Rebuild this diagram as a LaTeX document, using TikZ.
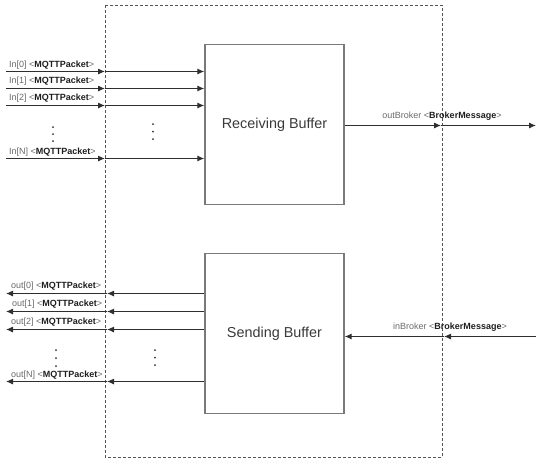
\documentclass[tikz,border=0pt]{standalone}
\usepackage{fontspec}
\setmainfont{Liberation Sans}
\usetikzlibrary{arrows.meta}
\definecolor{linegray}{HTML}{2E2E2E}
\definecolor{boxgray}{HTML}{7A7A7A}
\definecolor{framegray}{HTML}{555555}
\definecolor{lblgray}{HTML}{6A6A6A}
\definecolor{typegray}{HTML}{1E1E1E}
\definecolor{txtgray}{HTML}{3A3A3A}
\newcommand{\porttype}[1]{\textless\textcolor{typegray}{\textbf{#1}}\textgreater}
\tikzset{
  flow/.style={draw=linegray, line width=1pt, -{Latex[length=7pt,width=6pt]}},
  buffer/.style={draw=boxgray, line width=1.4pt, minimum width=139pt, minimum height=160pt,
    inner sep=0pt, font=\fontsize{14.4}{17}\selectfont, text=txtgray},
  port/.style={font=\fontsize{9}{11}\selectfont, text=lblgray, inner sep=0pt},
  frame/.style={draw=framegray, line width=0.9pt, dash pattern=on 3pt off 2pt},
  dot/.style={fill=linegray}
}
\begin{document}
\begin{tikzpicture}[x=1pt,y=-1pt]
		\useasboundingbox (0,0) rectangle (536,461);
		\coordinate (TL) at (105,5);
		\coordinate (BR) at (442,457);
		\draw [frame] (TL) rectangle (BR);
		\node [buffer] (RB) at (274.5,124.5) {Receiving Buffer};
		\node [buffer] (SB) at (274.5,333.5) {Sending Buffer};
		% inputs
		\coordinate (I0) at (6,71.5)  node (lI0) at (9,67)  [port,anchor=base west] {In[0] \porttype{MQTTPacket}};
		\coordinate (I1) at (6,88.5)  node (lI1) at (9,83.5)  [port,anchor=base west] {In[1] \porttype{MQTTPacket}};
		\coordinate (I2) at (6,105.5) node (lI2) at (9,100) [port,anchor=base west] {In[2] \porttype{MQTTPacket}};
		\coordinate (IN) at (6,158.5) node (lIN) at (9,154) [port,anchor=base west] {In[N] \porttype{MQTTPacket}};
		\coordinate (I0m) at (105,71.5);
		\coordinate (I1m) at (105,88.5);
		\coordinate (I2m) at (105,105.5);
		\coordinate (INm) at (105,158.5);
		\draw [flow] (I0)--(I0m); \draw [flow] (I0m)--(RB.west|-I0);
		\draw [flow] (I1)--(I1m); \draw [flow] (I1m)--(RB.west|-I1);
		\draw [flow] (I2)--(I2m); \draw [flow] (I2m)--(RB.west|-I2);
		\draw [flow] (IN)--(INm); \draw [flow] (INm)--(RB.west|-IN);
		% outputs
		\coordinate (O0) at (6,293.5) node (lO0) at (11,288) [port,anchor=base west] {out[0] \porttype{MQTTPacket}};
		\coordinate (O1) at (6,311.5) node (lO1) at (12,306.5) [port,anchor=base west] {out[1] \porttype{MQTTPacket}};
		\coordinate (O2) at (6,329.5) node (lO2) at (11,324.5) [port,anchor=base west] {out[2] \porttype{MQTTPacket}};
		\coordinate (ON) at (6,381.5) node (lON) at (11,377) [port,anchor=base west] {out[N] \porttype{MQTTPacket}};
		\coordinate (O0m) at (107,293.5);
		\coordinate (O1m) at (107,311.5);
		\coordinate (O2m) at (107,329.5);
		\coordinate (ONm) at (107,381.5);
		\draw [flow] (SB.west|-O0)--(O0m); \draw [flow] (O0m)--(O0);
		\draw [flow] (SB.west|-O1)--(O1m); \draw [flow] (O1m)--(O1);
		\draw [flow] (SB.west|-O2)--(O2m); \draw [flow] (O2m)--(O2);
		\draw [flow] (SB.west|-ON)--(ONm); \draw [flow] (ONm)--(ON);
		% broker side
		\coordinate (OB) at (536,125.5) node (lOB) at (442,118) [port,anchor=base] {outBroker \porttype{BrokerMessage}};
		\coordinate (IB) at (536,336.5) node (lIB) at (450,329) [port,anchor=base] {inBroker \porttype{BrokerMessage}};
		\coordinate (OBm) at (441,125.5);
		\coordinate (IBm) at (444,336.5);
		\draw [flow] (RB.east|-OB)--(OBm); \draw [flow] (OBm)--(OB);
		\draw [flow] (IB)--(IBm); \draw [flow] (IBm)--(SB.east|-IB);
		% ellipses
		\fill [dot] (53,127) circle (1pt) (53,134) circle (1pt) (53,141) circle (1pt);
		\fill [dot] (153,124) circle (1pt) (153,131.5) circle (1pt) (153,139) circle (1pt);
		\fill [dot] (56,350) circle (1pt) (56,358) circle (1pt) (56,366) circle (1pt);
		\fill [dot] (155,350) circle (1pt) (155,357.5) circle (1pt) (155,365) circle (1pt);
\end{tikzpicture}
\end{document}
